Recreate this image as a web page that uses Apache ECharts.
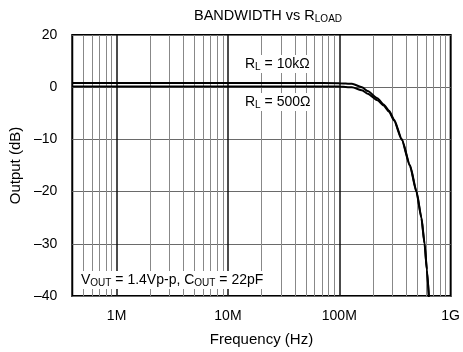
<!DOCTYPE html>
<html lang="en">
<head>
<meta charset="utf-8">
<title>Bandwidth vs RLOAD</title>
<script src="https://cdn.jsdelivr.net/npm/echarts@6/dist/echarts.min.js"></script>
<style>
    html, body { margin: 0; padding: 0; background: #fff; }
    #chart { width: 463px; height: 352px; }
</style>
</head>
<body>
<div id="chart"></div>
<script>
    // frequency points (Hz)
    var freq = [4e5, 1e6, 1e7, 5e7, 1e8, 1.3e8, 1.6e8, 1.8e8, 2.2e8, 2.5e8, 2.8e8, 3.1e8, 3.64e8, 4.31e8, 4.93e8, 5.46e8, 5.83e8, 6.12e8, 6.37e8];
    // output (dB)
    var rl10k = [0.8, 0.8, 0.8, 0.8, 0.78, 0.65, 0.0, -0.75, -2.1, -3.3, -4.5, -6.2, -9.9, -14.9, -19.9, -24.9, -29.9, -34.9, -40];
    var rl500 = [0.15, 0.15, 0.15, 0.15, 0.12, 0.0, -0.6, -1.25, -2.5, -3.5, -4.7, -6.4, -10.1, -15.1, -20.1, -25.1, -30.1, -35.1, -40.2];

    var xTickValues = [1e6, 1e7, 1e8, 1e9];
    var xTickLabels = ['1M', '10M', '100M', '1G'];
    // the top gridline is printed as 20 on the original sheet
    var yTickValues = [10, 0, -10, -20, -30, -40];
    var yTickLabels = ['20', '0', '\u201310', '\u201320', '\u201330', '\u201340'];

    var FONT = '"Liberation Sans", Arial, sans-serif';

    function pairs(xs, ys) {
        return xs.map(function (x, i) { return [x, ys[i]]; });
    }

    // log grid lines: 2..9 in each decade are minor, decades are major
    var minorLines = [], majorLines = [];
    [1e5, 1e6, 1e7, 1e8].forEach(function (d) {
        for (var k = 2; k <= 9; k++) {
            if (d * k > 4e5) minorLines.push({xAxis: d * k});
        }
    });
    xTickValues.slice(0, 3).forEach(function (v) { majorLines.push({xAxis: v}); });

    var richText = {
        a: { fontFamily: FONT, fontSize: 14, fill: '#000' },
        s: { fontFamily: FONT, fontSize: 10, fill: '#000', padding: [6, 0, 0, 0] }
    };

    var myChart = echarts.init(document.getElementById('chart'));
    myChart.setOption({
        animation: false,
        backgroundColor: '#fff',
        textStyle: { fontFamily: FONT },
        title: {
            text: '{a|BANDWIDTH vs R}{s|LOAD}',
            left: 263,
            top: 2,
            textAlign: 'center',
            textStyle: {
                fontWeight: 'normal',
                rich: {
                    a: { fontFamily: FONT, fontSize: 14.5, fontWeight: 'normal', color: '#000' },
                    s: { fontFamily: FONT, fontSize: 10, fontWeight: 'normal', color: '#000', padding: [7, 0, 0, 0] }
                }
            }
        },
        grid: {
            left: 68, right: 8, top: 35, bottom: 56,
            show: true,
            borderColor: '#000',
            borderWidth: 2
        },
        xAxis: {
            type: 'log',
            logBase: 10,
            min: 4e5,
            max: 1e9,
            name: 'Frequency (Hz)',
            nameLocation: 'middle',
            nameGap: 36,
            nameTextStyle: { fontFamily: FONT, fontSize: 15, color: '#000' },
            axisLine: { show: false },
            axisTick: { show: false },
            splitLine: { show: false },
            axisLabel: {
                showMinLabel: false,
                margin: 13,
                fontFamily: FONT,
                fontSize: 14,
                color: '#000',
                formatter: function (v) {
                    for (var i = 0; i < xTickValues.length; i++) {
                        if (Math.abs(Math.log10(v) - Math.log10(xTickValues[i])) < 1e-6) return xTickLabels[i];
                    }
                    return '';
                }
            }
        },
        yAxis: {
            type: 'value',
            min: -40,
            max: 10,
            interval: 10,
            name: 'Output (dB)',
            nameLocation: 'middle',
            nameGap: 45,
            nameTextStyle: { fontFamily: FONT, fontSize: 15, color: '#000' },
            axisLine: { show: false },
            axisTick: { show: false },
            splitLine: { show: true, lineStyle: { color: '#6a6a6a', width: 1 } },
            axisLabel: {
                margin: 15,
                fontFamily: FONT,
                fontSize: 14,
                color: '#000',
                padding: [5, 0, 0, 0],
                formatter: function (v) {
                    var i = yTickValues.indexOf(v);
                    return i >= 0 ? yTickLabels[i] : '';
                }
            }
        },
        series: [
            {
                name: 'minor grid',
                type: 'line',
                data: [],
                silent: true,
                z: 1,
                markLine: {
                    silent: true,
                    symbol: 'none',
                    label: { show: false },
                    lineStyle: { color: '#888', width: 1, type: 'solid' },
                    data: minorLines
                }
            },
            {
                name: 'major grid',
                type: 'line',
                data: [],
                silent: true,
                z: 1,
                markLine: {
                    silent: true,
                    symbol: 'none',
                    label: { show: false },
                    lineStyle: { color: '#111', width: 1.5, type: 'solid' },
                    data: majorLines
                }
            },
            {
                name: 'RL = 10k',
                type: 'line',
                data: pairs(freq, rl10k),
                showSymbol: false,
                smooth: 0.2,
                smoothMonotone: 'x',
                z: 5,
                lineStyle: { color: '#000', width: 2 }
            },
            {
                name: 'RL = 500',
                type: 'line',
                data: pairs(freq, rl500),
                showSymbol: false,
                smooth: 0.2,
                smoothMonotone: 'x',
                z: 5,
                lineStyle: { color: '#000', width: 2 }
            }
        ],
        graphic: [
            {
                type: 'text',
                left: 242, top: 55, z: 50,
                style: {
                    text: '{a|R}{s|L}{a| = 10k\u03a9}',
                    backgroundColor: '#fff',
                    padding: [1, 3],
                    rich: richText
                }
            },
            {
                type: 'text',
                left: 242, top: 93, z: 50,
                style: {
                    text: '{a|R}{s|L}{a| = 500\u03a9}',
                    backgroundColor: '#fff',
                    padding: [1, 3],
                    rich: richText
                }
            },
            {
                type: 'text',
                left: 78, top: 271, z: 50,
                style: {
                    text: '{a|V}{s|OUT}{a| = 1.4Vp-p, C}{s|OUT}{a| = 22pF}',
                    backgroundColor: '#fff',
                    padding: [1, 3],
                    rich: richText
                }
            }
        ]
    });
</script>
</body>
</html>
